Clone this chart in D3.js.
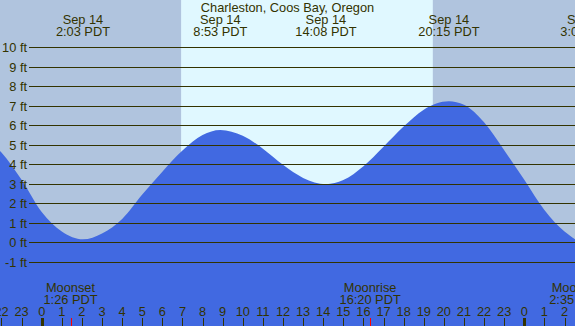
<!DOCTYPE html>
<html><head><meta charset="utf-8">
<script src="https://cdn.jsdelivr.net/npm/d3@7"></script>
<style>html,body{margin:0;padding:0;background:#fff;}svg{display:block;}</style>
</head><body><div id="chart"></div>
<script>
// Tide level samples (hours from Sep 14 00:00 PDT, feet)
const hours  = [-3, -2, -1, 0, 1, 2.05, 3, 4, 5, 6, 7, 8, 8.883, 10, 11, 12, 13, 14.133, 15, 16, 17, 18, 19, 20.25, 21, 22, 23, 24, 25, 26, 27.133, 28];
const levels = [5.5, 4.6, 3.2, 1.55, 0.55, 0.15, 0.45, 1.2, 2.45, 3.62, 4.7, 5.5, 5.76, 5.46, 4.8, 3.97, 3.3, 2.98, 3.19, 3.9, 4.9, 5.93, 6.8, 7.23, 7.05, 6.15, 4.72, 3.2, 1.65, 0.55, -0.05, 0.1];
// Tide extremes labels
const tideTimes  = [2.05, 8.883, 14.133, 20.25, 27.133];
const tideDates  = ["Sep 14", "Sep 14", "Sep 14", "Sep 14", "Sep 15"];
const tideLabels = ["2:03 PDT", "8:53 PDT", "14:08 PDT", "20:15 PDT", "3:08 PDT"];
// Moon events
const moonTimes  = [1.433, 16.333, 26.583];
const moonNames  = ["Moonset", "Moonrise", "Moonset"];
const moonLabels = ["1:26 PDT", "16:20 PDT", "2:35 PDT"];
// Daylight
const sunrise = 6.933, sunset = 19.45;
// Axis ticks
const hourTicks = d3.range(-2, 27);
const feetTicks = d3.range(-1, 11);
const title = "Charleston, Coos Bay, Oregon";

const W = 575, H = 326;
const x = d3.scaleLinear().domain([0, 24]).range([41.7, 524.3]);
const y = d3.scaleLinear().domain([0, 10]).range([242.3, 47.2]);
const ink = "#333300";
const font = "'Liberation Sans', Arial, sans-serif";
const fs = 12.8;

const svg = d3.select("#chart").append("svg").attr("width", W).attr("height", H)
  .style("font-family", font);

// backgrounds
svg.append("rect").attr("x", 0).attr("y", 0).attr("width", W).attr("height", H).attr("fill", "#b0c4de");
svg.append("rect").attr("x", x(sunrise)).attr("y", 0).attr("width", x(sunset) - x(sunrise)).attr("height", H).attr("fill", "#e0f8ff");

// tide area
const area = d3.area().x((d, i) => x(hours[i])).y0(H).y1((d, i) => y(levels[i])).curve(d3.curveMonotoneX);
svg.append("path").datum(levels).attr("d", area).attr("fill", "#4169e1");

// grid lines + labels
const grid = svg.append("g");
grid.selectAll("line").data(feetTicks).join("line")
  .attr("x1", 29).attr("x2", W)
  .attr("y1", d => Math.round(y(d)) + 0.5).attr("y2", d => Math.round(y(d)) + 0.5)
  .attr("stroke", ink).attr("stroke-width", 1.2);
grid.selectAll("text").data(feetTicks).join("text")
  .attr("x", 27).attr("y", d => Math.round(y(d)) + 5)
  .attr("text-anchor", "end").attr("font-size", fs).attr("fill", ink)
  .text(d => d + " ft");

// title
svg.append("text").attr("x", W / 2).attr("y", 11.5).attr("text-anchor", "middle")
  .attr("font-size", fs).attr("fill", ink).text(title);

// tide extreme labels
const tl = svg.append("g").selectAll("g").data(tideTimes).join("g");
tl.append("text").attr("x", d => x(d)).attr("y", 24).attr("text-anchor", "middle")
  .attr("font-size", fs).attr("fill", ink).text((d, i) => tideDates[i]);
tl.append("text").attr("x", d => x(d)).attr("y", 36).attr("text-anchor", "middle")
  .attr("font-size", fs).attr("fill", ink).text((d, i) => tideLabels[i]);

// moon labels
const ml = svg.append("g").selectAll("g").data(moonTimes).join("g");
ml.append("text").attr("x", d => x(d)).attr("y", 292).attr("text-anchor", "middle")
  .attr("font-size", fs).attr("fill", ink).text((d, i) => moonNames[i]);
ml.append("text").attr("x", d => x(d)).attr("y", 304).attr("text-anchor", "middle")
  .attr("font-size", fs).attr("fill", ink).text((d, i) => moonLabels[i]);

// hour ticks
const ht = svg.append("g");
ht.selectAll("line").data(hourTicks).join("line")
  .attr("x1", d => Math.round(x(d)) + 0.5).attr("x2", d => Math.round(x(d)) + 0.5)
  .attr("y1", 318).attr("y2", H)
  .attr("stroke", ink).attr("stroke-width", d => (d % 24 === 0) ? 3 : 1);
ht.selectAll("text").data(hourTicks).join("text")
  .attr("x", d => x(d)).attr("y", 316).attr("text-anchor", "middle")
  .attr("font-size", fs).attr("fill", ink).text(d => ((d % 24) + 24) % 24);
// moon ticks (red)
svg.append("g").selectAll("line").data(moonTimes).join("line")
  .attr("x1", d => Math.round(x(d)) + 0.5).attr("x2", d => Math.round(x(d)) + 0.5)
  .attr("y1", 318).attr("y2", H).attr("stroke", "#ff0000").attr("stroke-width", 1);
</script></body></html>
